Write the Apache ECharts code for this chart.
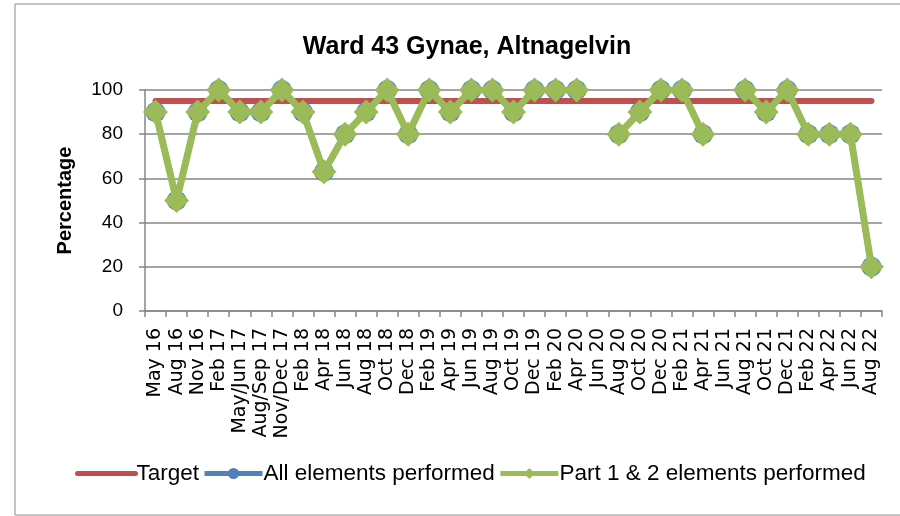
<!DOCTYPE html>
<html>
<head>
<meta charset="utf-8">
<script src="https://cdn.jsdelivr.net/npm/echarts@6/dist/echarts.min.js"></script>
<style>
  html, body { margin: 0; padding: 0; background: #ffffff; }
  #chart { width: 900px; height: 516px; }
</style>
</head>
<body>
<div id="chart"></div>
<script>
// 横轴类目
const months = ['May 16', 'Aug 16', 'Nov 16', 'Feb 17', 'May/Jun 17', 'Aug/Sep 17', 'Nov/Dec 17',
  'Feb 18', 'Apr 18', 'Jun 18', 'Aug 18', 'Oct 18', 'Dec 18', 'Feb 19', 'Apr 19', 'Jun 19',
  'Aug 19', 'Oct 19', 'Dec 19', 'Feb 20', 'Apr 20', 'Jun 20', 'Aug 20', 'Oct 20', 'Dec 20',
  'Feb 21', 'Apr 21', 'Jun 21', 'Aug 21', 'Oct 21', 'Dec 21', 'Feb 22', 'Apr 22', 'Jun 22', 'Aug 22']
// 目标值
const target = months.map(() => 95)
// 全部要素
const allElements = [90, 50, 90, 100, 90, 90, 100, 90, 63, 80, 90, 100, 80, 100, 90, 100,
  100, 90, 100, 100, 100, null, 80, 90, 100, 100, 80, null, 100, 90, 100, 80, 80, 80, 20]
// 第一、二部分要素
const part12 = [90, 50, 90, 100, 90, 90, 100, 90, 63, 80, 90, 100, 80, 100, 90, 100,
  100, 90, 100, 100, 100, null, 80, 90, 100, 100, 80, null, 100, 90, 100, 80, 80, 80, 20]
const yTicks = [0, 20, 40, 60, 80, 100]

const chart = echarts.init(document.getElementById('chart'), null, { renderer: 'canvas' })

const option = {
  backgroundColor: '#ffffff',
  animation: false,
  graphic: [{
    type: 'rect',
    shape: { x: 15, y: 4, width: 900, height: 511 },
    style: { fill: 'none', stroke: '#8c8c8c', lineWidth: 1 },
    silent: true
  }],
  title: {
    text: 'Ward 43 Gynae, Altnagelvin',
    left: 462,
    textAlign: 'center',
    top: 30,
    textStyle: {
      fontFamily: 'Liberation Sans',
      fontWeight: 'bold',
      fontSize: 25,
      color: '#000'
    }
  },
  grid: {
    left: 145,
    right: 18,
    top: 90,
    bottom: 205,
    containLabel: false
  },
  legend: {
    left: 70,
    top: 457,
    itemWidth: 58,
    itemHeight: 14,
    itemGap: 3,
    lineStyle: { width: 5 },
    textStyle: {
      fontFamily: 'Liberation Sans',
      fontSize: 22.5,
      color: '#000',
      padding: [0, 0, 0, -4]
    },
    data: [
      { name: 'Target', itemStyle: { opacity: 0 } },
      'All elements performed',
      'Part 1 & 2 elements performed'
    ]
  },
  xAxis: {
    type: 'category',
    data: months,
    boundaryGap: true,
    axisLine: { lineStyle: { color: '#868686', width: 1.5 } },
    axisTick: { show: true, alignWithLabel: false, length: 6, lineStyle: { color: '#868686', width: 1.5 } },
    axisLabel: {
      interval: 0,
      rotate: 90,
      margin: 17,
      fontFamily: 'DejaVu Sans',
      fontSize: 19,
      lineHeight: 21,
      color: '#000'
    },
    splitLine: { show: false }
  },
  yAxis: {
    type: 'value',
    min: yTicks[0],
    max: yTicks[yTicks.length - 1],
    interval: 20,
    name: 'Percentage',
    nameLocation: 'middle',
    nameGap: 70,
    nameRotate: 90,
    nameTextStyle: {
      fontFamily: 'Liberation Sans',
      fontWeight: 'bold',
      fontSize: 20,
      color: '#000'
    },
    axisLine: { show: true, lineStyle: { color: '#868686', width: 1.5 } },
    axisTick: { show: true, length: 6, lineStyle: { color: '#868686', width: 1.5 } },
    axisLabel: {
      margin: 22,
      fontFamily: 'Liberation Sans',
      fontSize: 19,
      color: '#000'
    },
    splitLine: { show: true, lineStyle: { color: '#868686', width: 1.5 } }
  },
  series: [{
    name: 'Target',
    type: 'line',
    data: target,
    symbol: 'none',
    itemStyle: { color: '#C0504D' },
    lineStyle: { color: '#C0504D', width: 6, cap: 'round' },
    z: 2
  }, {
    name: 'All elements performed',
    type: 'line',
    data: allElements,
    symbol: 'circle',
    symbolSize: 20,
    itemStyle: { color: '#4F81BD' },
    lineStyle: { color: '#4F81BD', width: 6 },
    z: 3
  }, {
    name: 'Part 1 & 2 elements performed',
    type: 'line',
    data: part12,
    symbol: 'diamond',
    symbolSize: 25,
    itemStyle: { color: '#9BBB59' },
    lineStyle: { color: '#9BBB59', width: 7 },
    z: 4
  }]
}

chart.setOption(option)
</script>
</body>
</html>
